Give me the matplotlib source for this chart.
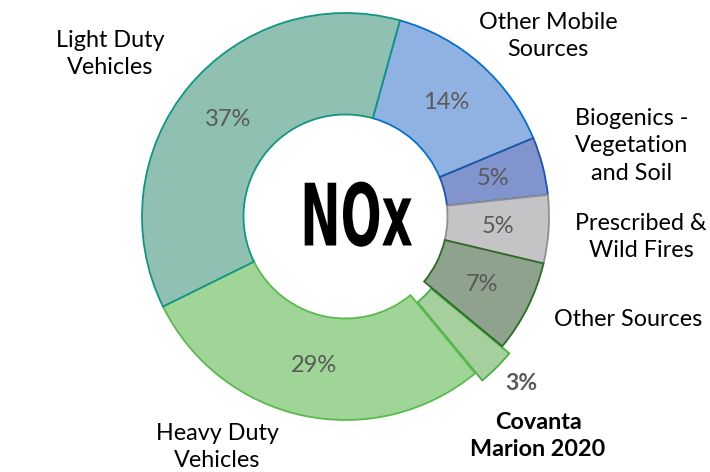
import matplotlib
matplotlib.use("Agg")
import matplotlib.pyplot as plt
import matplotlib.patheffects as pe
from matplotlib.transforms import Affine2D

sources = ["Other Mobile Sources", "Biogenics - Vegetation and Soil",
           "Prescribed & Wild Fires", "Other Sources", "Covanta Marion 2020",
           "Heavy Duty Vehicles", "Light Duty Vehicles"]
shares = [14.4, 4.6, 5.4, 7.3, 3.0, 28.7, 36.6]
fills = ["#90b2e2", "#8194ce", "#c4c4c7", "#8fa28d", "#a5cf9d", "#9fd596", "#8fc0b1"]
edges = ["#0a6ec6", "#1c56a6", "#8e8e93", "#2d6b27", "#4cae47", "#5bb94f", "#139484"]

label_font = ["Lato", "DejaVu Sans"]


class SqueezeX(pe.AbstractPathEffect):
    # narrow the glyphs around their own centre
    def __init__(self, sx):
        super().__init__()
        self.sx = sx

    def draw_path(self, renderer, gc, tpath, affine, rgbFace=None):
        ext = tpath.get_extents(affine)
        x0 = (ext.x0 + ext.x1) / 2
        aff = affine + Affine2D().translate(-x0, 0).scale(self.sx, 1).translate(x0, 0)
        renderer.draw_path(gc, tpath, aff, rgbFace)


fig = plt.figure(figsize=(7.1, 4.72), dpi=100)
ax = fig.add_axes([0, 0, 1, 1])

H = 472
explode = [0, 0, 0, 0, 10, 0, 0]
wedges, texts, pcts = ax.pie(
    shares, radius=203.5, center=(345.5, H - 216.5), startangle=74.5,
    counterclock=False, explode=explode, colors=fills,
    wedgeprops=dict(width=101.5, linewidth=1.3),
    autopct="%.0f%%", pctdistance=0.75,
    textprops=dict(color="#595959", fontsize=17, family=label_font))

for w, ec in zip(wedges, edges):
    w.set_edgecolor(ec)
wedges[3].set_zorder(wedges[4].get_zorder() + 0.5)

# Covanta share sits outside the ring
pcts[4].set_position((521, H - 383))
pcts[4].set_fontweight("bold")
pcts[4].set_fontsize(16.5)

ax.set_xlim(0, 710)
ax.set_ylim(0, H)
ax.set_aspect("equal")
ax.axis("off")

outside = [
    ("Light Duty\nVehicles", 110, 54, "normal"),
    ("Other Mobile\nSources", 548, 36, "normal"),
    ("Biogenics -\nVegetation\nand Soil", 632, 146, "normal"),
    ("Prescribed &\nWild Fires", 641, 237, "normal"),
    ("Other Sources", 628, 320, "normal"),
    ("Covanta\nMarion 2020", 538, 436, "bold"),
    ("Heavy Duty\nVehicles", 217, 447, "normal"),
]
for txt, x, y, wt in outside:
    ax.text(x, H - y, txt, ha="center", va="center", fontsize=16.8,
            family=label_font, fontweight=wt, color="black", linespacing=1.38)

ax.text(355, H - 222, "NOx", ha="center", va="center", fontsize=62,
        family=["Liberation Sans Narrow", "DejaVu Sans"], fontweight="bold",
        color="black", path_effects=[SqueezeX(0.56)])

fig.savefig("out.png", dpi=100)
